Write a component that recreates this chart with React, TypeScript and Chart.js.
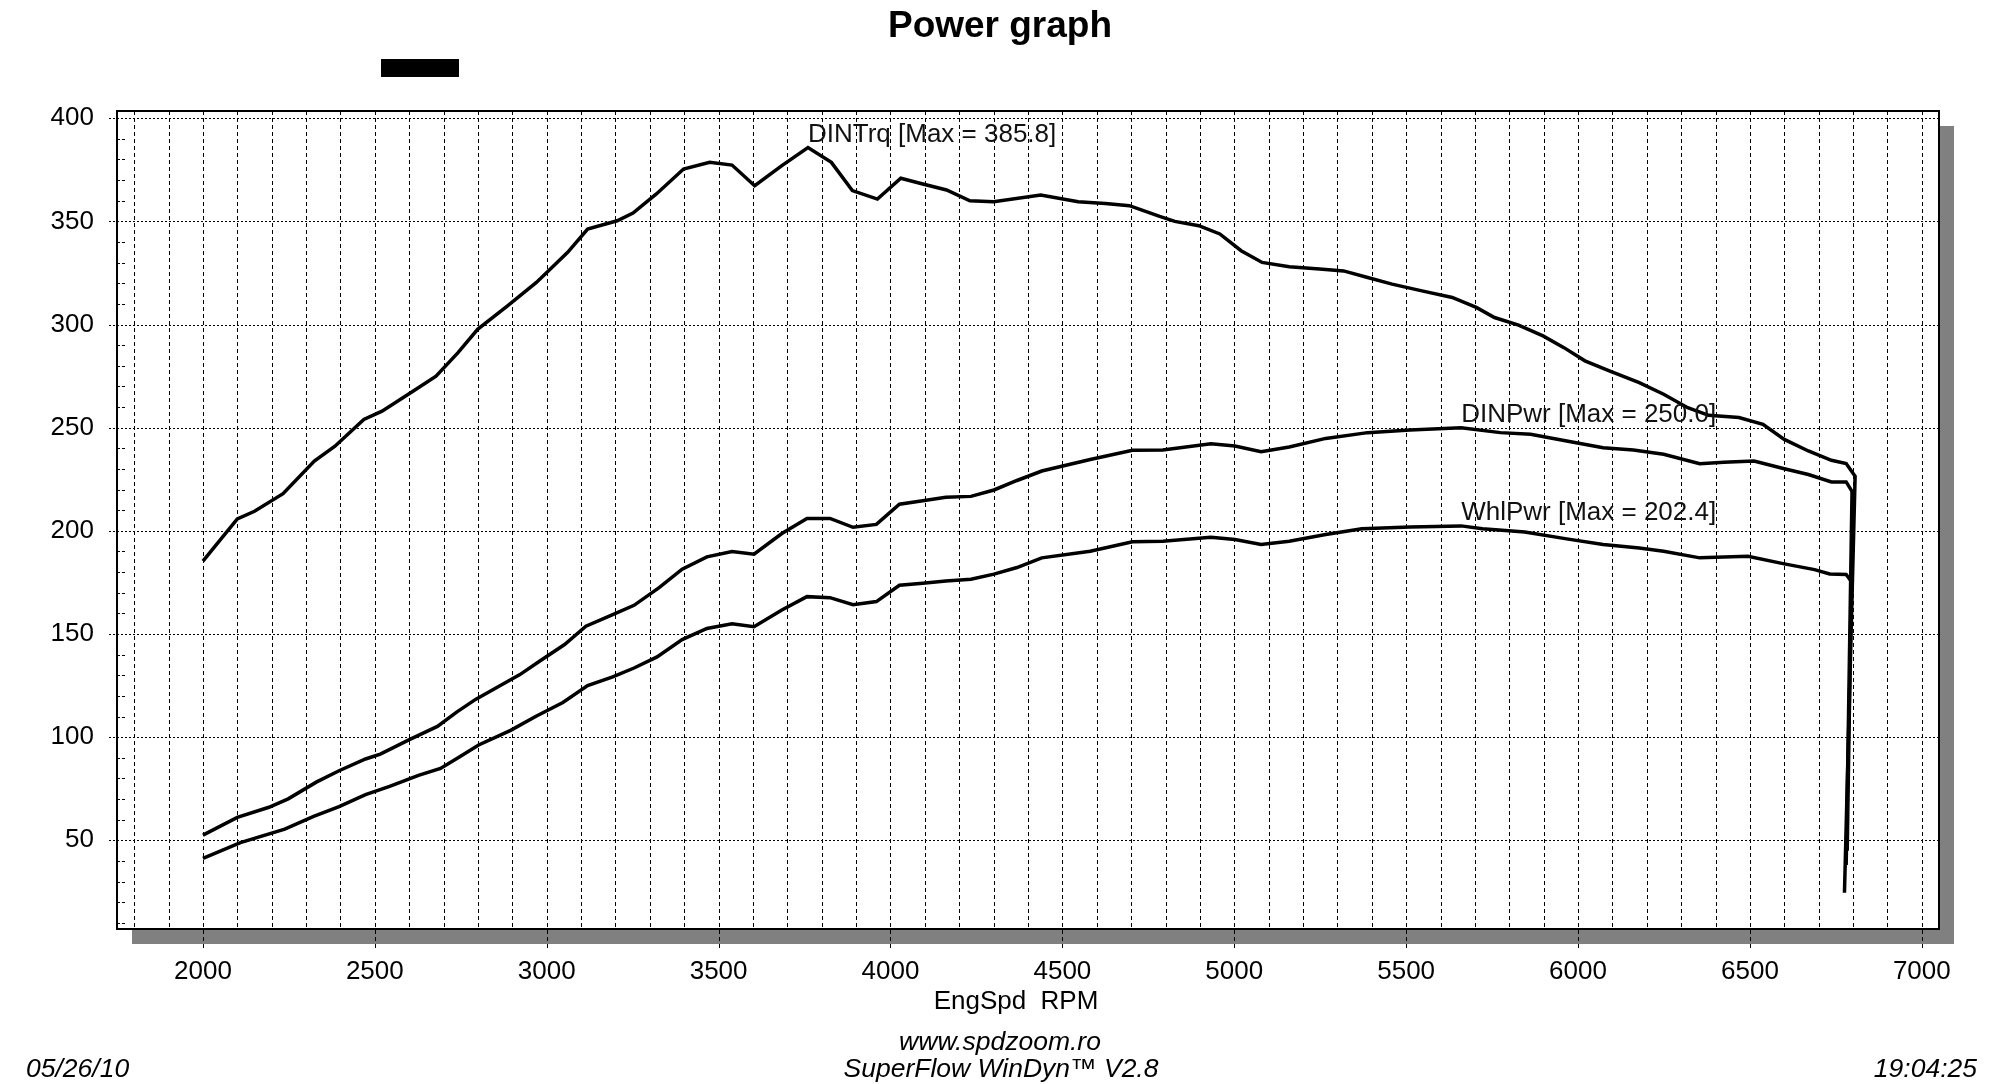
import { useEffect, useRef } from "react";
import { Chart, registerables } from "chart.js";

Chart.register(...registerables);

// ---- data ----
const trqRpm = [2000, 2100, 2150, 2233, 2324, 2384, 2468, 2521, 2612, 2678, 2742, 2799, 2886, 2970, 3061, 3119, 3205, 3251, 3319, 3398, 3474, 3539, 3605, 3684, 3760, 3828, 3889, 3962, 4030, 4094, 4163, 4231, 4300, 4437, 4546, 4625, 4695, 4783, 4827, 4897, 4958, 5020, 5081, 5160, 5248, 5318, 5388, 5459, 5546, 5634, 5704, 5757, 5827, 5898, 5959, 6020, 6091, 6178, 6249, 6319, 6380, 6468, 6538, 6600, 6670, 6737, 6780, 6806, 6775];
const trqVals = [185.3, 205.8, 209.5, 218, 233.8, 241, 254, 258, 267.8, 275, 286.4, 297.7, 309, 320.4, 335, 346.3, 350.3, 354, 363.3, 375.4, 378.6, 377.3, 367.3, 377, 385.8, 378.6, 364.9, 360.8, 370.9, 368.1, 365.2, 360, 359.5, 362.8, 359.5, 358.7, 357.6, 352.4, 350, 347.9, 343.9, 335.8, 330.1, 328, 326.9, 326, 322.8, 319.6, 316.3, 313.1, 308.3, 303.4, 299.7, 294.5, 288.8, 282.4, 277.5, 271.8, 266.2, 259.7, 256, 254.9, 251.6, 244.3, 238.7, 234.2, 232.6, 226.4, 24.6];

const dinRpm = [2000, 2100, 2192, 2248, 2331, 2396, 2473, 2516, 2599, 2682, 2738, 2793, 2860, 2922, 2979, 3052, 3114, 3187, 3254, 3327, 3394, 3466, 3539, 3603, 3684, 3757, 3824, 3891, 3959, 4026, 4094, 4161, 4234, 4301, 4368, 4440, 4581, 4704, 4792, 4932, 5002, 5078, 5160, 5266, 5388, 5511, 5660, 5774, 5862, 5967, 6073, 6161, 6249, 6354, 6424, 6512, 6600, 6670, 6737, 6780, 6797, 6780];
const dinVals = [52.5, 61.1, 66, 70.1, 78.3, 83.7, 89.4, 91.8, 98.7, 105.2, 112.1, 118.3, 124.5, 130.3, 136.8, 144.9, 153.8, 159, 163.9, 172.5, 181.4, 187.4, 190, 188.7, 198.7, 206, 206, 201.7, 203.1, 212.9, 214.6, 216.3, 216.7, 219.8, 224.4, 229, 234.6, 239, 239.2, 242.2, 241.1, 238.3, 240.6, 244.8, 247.6, 248.9, 250.0, 247.6, 246.8, 243.5, 240.3, 239.2, 237.1, 232.5, 233.3, 233.8, 230.1, 227.3, 223.7, 223.7, 219.1, 38];

const whlRpm = [2000, 2109, 2238, 2322, 2396, 2473, 2543, 2627, 2691, 2747, 2802, 2895, 2969, 3047, 3119, 3192, 3254, 3321, 3394, 3466, 3539, 3603, 3684, 3757, 3824, 3891, 3959, 4026, 4094, 4161, 4234, 4301, 4368, 4440, 4581, 4704, 4792, 4932, 5002, 5078, 5160, 5266, 5371, 5511, 5660, 5722, 5845, 5967, 6073, 6178, 6249, 6354, 6494, 6600, 6688, 6732, 6780, 6795, 6783];
const whlVals = [41.2, 48.9, 55.4, 61.6, 66.3, 72.1, 76.1, 81.5, 84.8, 90.5, 96.2, 103.3, 110.1, 116.8, 125, 129.2, 133.5, 138.9, 147.3, 152.7, 155, 153.5, 161.6, 168.1, 167.6, 164.2, 165.7, 173.6, 174.6, 175.7, 176.5, 179, 182.2, 186.9, 190.1, 194.7, 195, 196.9, 195.8, 193.4, 195, 198.2, 201, 201.8, 202.4, 201, 199.4, 196.1, 193.4, 191.7, 190.1, 186.9, 187.7, 184, 181.2, 179.1, 178.8, 175.4, 45];

const seriesLabels = ["DINTrq", "DINPwr", "WhlPwr"];

// tick labels / grid positions
const xTickLabels = [2000, 2500, 3000, 3500, 4000, 4500, 5000, 5500, 6000, 6500, 7000];
const yTickLabels = [50, 100, 150, 200, 250, 300, 350, 400];
const xGridRpm: number[] = [];
for (let r = 1800; r <= 7000; r += 100) xGridRpm.push(r);
const yMinorTicks: number[] = [];
for (let v = 10; v <= 390; v += 10) if (v % 50 !== 0) yMinorTicks.push(v);

const X_MIN = 1750;
const X_MAX = 7050;
const Y_MIN = 7;
const Y_MAX = 403.5;

const FONT = '"Liberation Sans", Arial, Helvetica, sans-serif';

export default function App() {
  const ref = useRef<HTMLCanvasElement>(null);

  useEffect(() => {
    document.body.style.margin = "0";
    const canvas = ref.current!;
    const pts = (r: number[], v: number[]) => r.map((x, i) => ({ x, y: v[i] }));
    const seriesData = [
      pts(trqRpm, trqVals),
      pts(dinRpm, dinVals),
      pts(whlRpm, whlVals),
    ];

    const decor = {
      id: "decor",
      beforeDraw(c: any) {
        const { ctx, chartArea: a } = c;
        ctx.save();
        ctx.fillStyle = "#ffffff";
        ctx.fillRect(0, 0, c.width, c.height);
        ctx.fillStyle = "#808080";
        ctx.fillRect(a.left + 15, a.top + 15, a.right - a.left, a.bottom - a.top);
        ctx.fillStyle = "#ffffff";
        ctx.fillRect(a.left, a.top, a.right - a.left, a.bottom - a.top);
        ctx.restore();
      },
      beforeDatasetsDraw(c: any) {
        const { ctx, chartArea: a } = c;
        const x = c.scales.x;
        const y = c.scales.y;
        ctx.save();
        ctx.strokeStyle = "#000";
        ctx.lineWidth = 1;
        ctx.setLineDash([4, 3]);
        for (const v of xGridRpm) {
          const px = Math.round(x.getPixelForValue(v)) + 0.5;
          const major = v % 500 === 0;
          ctx.beginPath();
          ctx.moveTo(px, a.top);
          ctx.lineTo(px, major ? a.bottom + 21 : a.bottom);
          ctx.stroke();
        }
        ctx.setLineDash([2, 2]);
        for (const v of yTickLabels) {
          const py = Math.round(y.getPixelForValue(v)) + 0.5;
          ctx.beginPath();
          ctx.moveTo(a.left - 8, py);
          ctx.lineTo(a.right, py);
          ctx.stroke();
        }
        ctx.setLineDash([3, 2]);
        for (const v of yMinorTicks) {
          const py = Math.round(y.getPixelForValue(v)) + 0.5;
          ctx.beginPath();
          ctx.moveTo(a.left, py);
          ctx.lineTo(a.left + 10, py);
          ctx.stroke();
        }
        ctx.setLineDash([]);
        ctx.lineWidth = 2;
        ctx.strokeRect(a.left, a.top, a.right - a.left, a.bottom - a.top);
        ctx.restore();
      },
      afterDatasetsDraw(c: any) {
        const { ctx } = c;
        const x = c.scales.x;
        const y = c.scales.y;
        ctx.save();
        ctx.fillStyle = "#111";
        ctx.font = `26px ${FONT}`;
        ctx.textAlign = "left";
        ctx.textBaseline = "alphabetic";
        seriesData.forEach((d, k) => {
          let mi = 0;
          d.forEach((p, i) => {
            if (p.y > d[mi].y) mi = i;
          });
          const px = x.getPixelForValue(d[mi].x);
          const py = y.getPixelForValue(d[mi].y);
          ctx.fillText(`${seriesLabels[k]} [Max = ${d[mi].y.toFixed(1)}]`, px, py - 6);
        });
        ctx.restore();
      },
      afterDraw(c: any) {
        const { ctx } = c;
        ctx.save();
        ctx.fillStyle = "#000";
        ctx.textBaseline = "alphabetic";
        ctx.font = `bold 37px ${FONT}`;
        ctx.textAlign = "center";
        ctx.fillText("Power graph", 1000, 37);
        ctx.fillRect(381, 59, 78, 18);
        ctx.font = `26px ${FONT}`;
        ctx.fillText("EngSpd  RPM", 1016, 1009);
        ctx.font = `italic 26.5px ${FONT}`;
        ctx.fillText("www.spdzoom.ro", 1000, 1050);
        ctx.fillText("SuperFlow WinDyn\u2122 V2.8", 1001, 1077);
        ctx.textAlign = "left";
        ctx.fillText("05/26/10", 26, 1077);
        ctx.textAlign = "right";
        ctx.fillText("19:04:25", 1977, 1077);
        ctx.restore();
      },
    };

    const chart = new Chart(canvas, {
      type: "line",
      data: {
        datasets: seriesData.map((d, k) => ({
          label: seriesLabels[k],
          data: d,
          borderColor: "#000",
          borderWidth: 3.5,
          pointRadius: 0,
          tension: 0,
          fill: false,
        })),
      },
      options: {
        responsive: false,
        animation: false,
        events: [],
        layout: { padding: { left: 0, top: 111, right: 61, bottom: 0 } },
        plugins: {
          legend: { display: false },
          title: { display: false },
          tooltip: { enabled: false },
        },
        scales: {
          x: {
            type: "linear",
            min: X_MIN,
            max: X_MAX,
            grid: { display: false, drawTicks: false },
            border: { display: false },
            afterBuildTicks: (s: any) => {
              s.ticks = xTickLabels.map((value) => ({ value }));
            },
            afterFit: (s: any) => {
              s.height = 155;
            },
            ticks: {
              padding: 27,
              color: "#000",
              font: { family: FONT, size: 26 },
              maxRotation: 0,
              autoSkip: false,
              callback: (v: any) => String(v),
            },
          },
          y: {
            type: "linear",
            min: Y_MIN,
            max: Y_MAX,
            grid: { display: false, drawTicks: false },
            border: { display: false },
            afterBuildTicks: (s: any) => {
              s.ticks = yTickLabels.map((value) => ({ value }));
            },
            afterFit: (s: any) => {
              s.width = 117;
            },
            ticks: {
              padding: 23,
              color: "#000",
              font: { family: FONT, size: 26 },
              autoSkip: false,
              callback: (v: any) => String(v),
            },
          },
        },
      },
      plugins: [decor],
    });
    return () => chart.destroy();
  }, []);

  return (
    <div style={{ position: "absolute", left: 0, top: 0, width: 2000, height: 1084, background: "#fff" }}>
      <canvas ref={ref} width={2000} height={1084} style={{ display: "block", width: 2000, height: 1084 }} />
    </div>
  );
}
